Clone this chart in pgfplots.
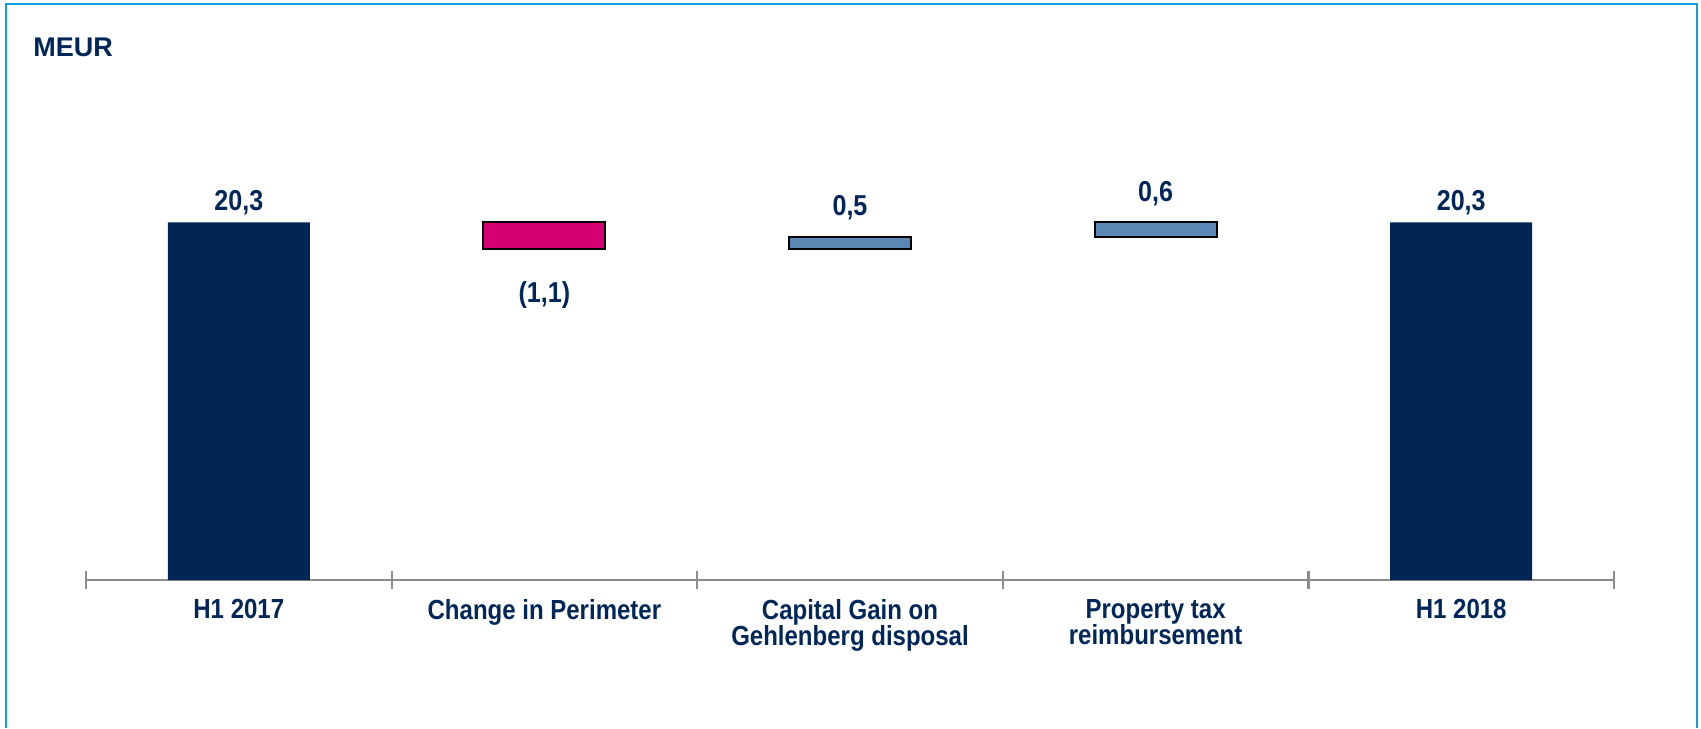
\documentclass[border=0pt]{standalone}
\usepackage{pgfplots}
\pgfplotsset{compat=1.18}
\usepackage{fontspec}
\setmainfont{Liberation Sans}
\definecolor{navy}{RGB}{0,37,84}
\definecolor{txt}{RGB}{0,38,90}
\definecolor{wfred}{RGB}{214,0,116}
\definecolor{steel}{RGB}{91,135,180}
\definecolor{framec}{RGB}{10,160,225}
\definecolor{axgray}{RGB}{140,140,140}
\newcommand\sx[1]{\scalebox{0.87}[1]{#1}}
\begin{document}
\begin{tikzpicture}
\path[use as bounding box] (0pt,0pt) rectangle (850.5pt,364pt);
\draw[framec, line width=1.3pt] (3pt,0pt) -- (3pt,362pt) -- (848.5pt,362pt) -- (848.5pt,0pt);
\node[anchor=west, text=txt, font=\bfseries\fontsize{13.5}{15}\selectfont, inner sep=0pt] at (16.5pt,340.5pt) {MEUR};

% dark total bars and x axis
\begin{axis}[
  at={(43pt,74pt)}, anchor=south west,
  x=152.8pt, y=12.25pt,
  xmin=-0.5, xmax=4.5, ymin=5.7, ymax=22,
  hide y axis,
  axis x line=bottom,
  x axis line style={-, axgray, line width=1.4pt},
  xtick={0,1,2,3,4},
  xticklabels={\sx{H1 2017}, \sx{Change in Perimeter}, {\sx{Capital Gain on}\\\sx{Gehlenberg disposal}}, {\sx{Property tax}\\\sx{reimbursement}}, \sx{H1 2018}},
  xticklabel style={align=center, text=txt, font=\bfseries\fontsize{13.8}{13}\selectfont, anchor=north, yshift=-6pt},
  major tick length=0pt,
  extra x ticks={-0.5,0.5,1.5,2.5,3.5,4.5},
  extra x tick labels={},
  extra x tick style={major tick length=9pt, tick align=center, tick style={axgray, line width=1.1pt}},
  ybar, bar width=71pt,
]
\addplot[fill=navy, draw=none] coordinates {(0,20.3) (4,20.3)};
\end{axis}

% floating delta bars
\begin{axis}[
  at={(43pt,74pt)}, anchor=south west,
  x=152.8pt, y=12.25pt,
  xmin=-0.5, xmax=4.5, ymin=5.7, ymax=22,
  hide axis,
  ybar stacked, bar width=61pt,
]
\addplot[fill=none, draw=none] coordinates {(1,19.2) (2,19.2) (3,19.7)};
\addplot[fill=wfred, draw=black, line width=1pt] coordinates {(1,1.1) (2,0) (3,0)};
\addplot[fill=steel, draw=black, line width=1pt] coordinates {(1,0) (2,0.5) (3,0.6)};
\tikzset{vl/.style={text=txt, font=\bfseries\fontsize{14.4}{15}\selectfont}}
\node[vl] at (axis cs:0,21.09) {\sx{20,3}};
\node[vl] at (axis cs:4,21.09) {\sx{20,3}};
\node[vl] at (axis cs:1,17.34) {\sx{(1,1)}};
\node[vl] at (axis cs:2,20.89) {\sx{0,5}};
\node[vl] at (axis cs:3,21.46) {\sx{0,6}};
\end{axis}
\end{tikzpicture}
\end{document}
